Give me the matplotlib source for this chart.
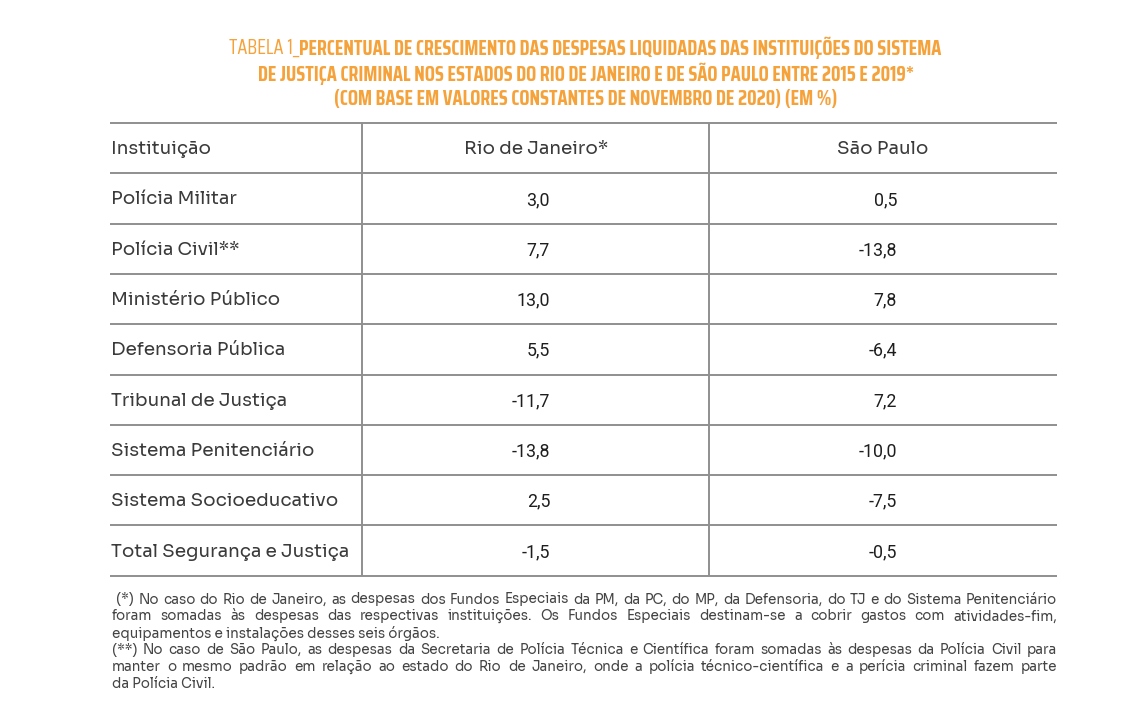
import matplotlib.pyplot as plt

# ---- data -------------------------------------------------------------
title_prefix = "TABELA 1_"
title_lines = [
    "PERCENTUAL DE CRESCIMENTO DAS DESPESAS LIQUIDADAS DAS INSTITUIÇÕES DO SISTEMA",
    "DE JUSTIÇA CRIMINAL NOS ESTADOS DO RIO DE JANEIRO E DE SÃO PAULO ENTRE 2015 E 2019*",
    "(COM BASE EM VALORES CONSTANTES DE NOVEMBRO DE 2020) (EM %)",
]
headers = ["Instituição", "Rio de Janeiro*", "São Paulo"]
institutions = [
    "Polícia Militar",
    "Polícia Civil**",
    "Ministério Público",
    "Defensoria Pública",
    "Tribunal de Justiça",
    "Sistema Penitenciário",
    "Sistema Socioeducativo",
    "Total Segurança e Justiça",
]
rio = [3.0, 7.7, 13.0, 5.5, -11.7, -13.8, 2.5, -1.5]
sao_paulo = [0.5, -13.8, 7.8, -6.4, 7.2, -10.0, -7.5, -0.5]
notes = [
    (" (*) No caso do Rio de Janeiro, as despesas dos Fundos Especiais da PM, da PC, do MP, da Defensoria, do TJ e do Sistema Penitenciário", True),
    ("foram somadas às despesas das respectivas instituições. Os Fundos Especiais destinam-se a cobrir gastos com atividades-fim,", True),
    ("equipamentos e instalações desses seis órgãos.", False),
    ("(**) No caso de São Paulo, as despesas da Secretaria de Polícia Técnica e Científica foram somadas às despesas da Polícia Civil para", True),
    ("manter o mesmo padrão em relação ao estado do Rio de Janeiro, onde a polícia técnico-científica e a perícia criminal fazem parte", True),
    ("da Polícia Civil.", False),
]

# ---- style ------------------------------------------------------------
ORANGE = "#F5A23B"
LINE = "#8f8f8f"
TXT = "#3b3b3b"
NUM = "#1e1e1e"
NOTE = "#454545"
TITLE_FONT = ["Saira Condensed", "DejaVu Sans"]
TABLE_FONT = ["Sora", "DejaVu Sans"]
NUM_FONT = ["Roboto", "DejaVu Sans"]
NOTE_FONT = ["Sora", "DejaVu Sans"]

W, H = 1143, 712
LEFT, RIGHT = 110, 1057
COL1, COL2 = 362, 709
TOP, ROW_H = 123, 50.3
TEXT_DY = 1.5  # small downward nudge of cell text
LABEL_SIZE = 13.2
NUM_SIZE = 12.8


def fmt(v):
    return f"{v:.1f}".replace(".", ",")


fig = plt.figure(figsize=(W / 100, H / 100), dpi=100)
ax = fig.add_axes([0, 0, 1, 1])
ax.set_xlim(0, W)
ax.set_ylim(H, 0)
ax.axis("off")
renderer = fig.canvas.get_renderer()


def width_of(t):
    return t.get_window_extent(renderer=renderer).width


# ---- title ------------------------------------------------------------
title_y = [48, 73.5, 99]
title_size = 14.5
for i, line in enumerate(title_lines):
    if i == 0:
        pre = ax.text(0, title_y[i], title_prefix, fontsize=title_size, family=TITLE_FONT,
                      weight="normal", color=ORANGE, va="center", ha="left")
        main = ax.text(0, title_y[i], line, fontsize=title_size, family=TITLE_FONT,
                       weight="bold", color=ORANGE, va="center", ha="left")
        wp, wm = width_of(pre), width_of(main)
        x0 = 585 - (wp + wm) / 2
        pre.set_x(x0)
        main.set_x(x0 + wp)
    else:
        ax.text(586, title_y[i], line, fontsize=title_size, family=TITLE_FONT,
                weight="bold", color=ORANGE, va="center", ha="center")

# ---- table ------------------------------------------------------------
n_rows = len(institutions) + 1
bottom = TOP + n_rows * ROW_H
for r in range(n_rows + 1):
    y = TOP + r * ROW_H
    ax.plot([LEFT, RIGHT], [y, y], color=LINE, lw=1.4, solid_capstyle="butt")
for x in (COL1, COL2):
    ax.plot([x, x], [TOP, bottom], color=LINE, lw=1.4, solid_capstyle="butt")

hy = TOP + ROW_H / 2 + TEXT_DY
ax.text(LEFT + 1, hy, headers[0], fontsize=LABEL_SIZE, family=TABLE_FONT, color=TXT, va="center", ha="left")
ax.text(536, hy, headers[1], fontsize=LABEL_SIZE, family=TABLE_FONT, color=TXT, va="center", ha="center")
ax.text(883, hy, headers[2], fontsize=LABEL_SIZE, family=TABLE_FONT, color=TXT, va="center", ha="center")

for i, name in enumerate(institutions):
    y = TOP + (i + 1.5) * ROW_H + TEXT_DY
    ax.text(LEFT + 1, y, name, fontsize=LABEL_SIZE, family=TABLE_FONT, color=TXT, va="center", ha="left")
    ax.text(550, y, fmt(rio[i]), fontsize=NUM_SIZE, family=NUM_FONT, color=NUM, va="center", ha="right")
    ax.text(897, y, fmt(sao_paulo[i]), fontsize=NUM_SIZE, family=NUM_FONT, color=NUM, va="center", ha="right")

# ---- footnotes (justified) --------------------------------------------
note_y0, note_dy = 599.5, 16.8
note_size = 9.7
for k, (line, justify) in enumerate(notes):
    y = note_y0 + k * note_dy
    lead = 4 if line.startswith(" ") else 0
    x_start = 112 + lead
    words = line.strip().split(" ")
    if not justify:
        ax.text(x_start, y, line.strip(), fontsize=note_size, family=NOTE_FONT,
                color=NOTE, va="center", ha="left")
        continue
    texts = [ax.text(0, y, w, fontsize=note_size, family=NOTE_FONT, color=NOTE,
                     va="center", ha="left") for w in words]
    widths = [width_of(t) for t in texts]
    gap = (RIGHT - x_start - sum(widths)) / (len(words) - 1)
    x = x_start
    for t, w in zip(texts, widths):
        t.set_x(x)
        x += w + gap

fig.savefig("out.png", dpi=100)
plt.close(fig)
